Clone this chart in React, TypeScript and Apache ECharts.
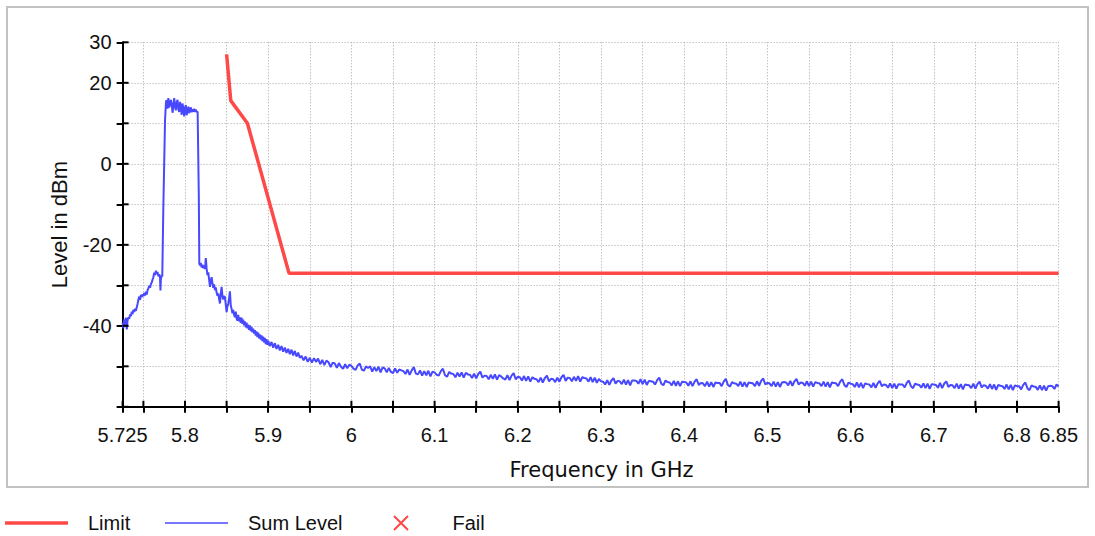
import { useEffect, useRef } from 'react';
import * as echarts from 'echarts';

// ---------- axis ticks / labels ----------
const xTickValues = [5.725, 5.75, 5.8, 5.85, 5.9, 5.95, 6.0, 6.05, 6.1, 6.15, 6.2, 6.25, 6.3, 6.35, 6.4, 6.45, 6.5, 6.55, 6.6, 6.65, 6.7, 6.75, 6.8, 6.85];
const xLabelValues = [5.725, 5.8, 5.9, 6.0, 6.1, 6.2, 6.3, 6.4, 6.5, 6.6, 6.7, 6.8, 6.85];
const yTickValues = [-60, -50, -40, -30, -20, -10, 0, 10, 20, 30];
const yLabelValues = [30, 20, 0, -20, -40];

// ---------- series: Limit (GHz, dBm) ----------
const limitPoints: [number, number][] = [
  [5.85, 27], [5.855, 15.6], [5.875, 10], [5.925, -27], [6.85, -27],
];

// ---------- series: Sum Level, signal region (GHz, dBm) ----------
const sumLevelSignal: [number, number][] = [
  [5.725, -39.2], [5.726, -40.6], [5.727, -38.4], [5.728, -39.8], [5.729, -38.0], [5.730, -40.9], [5.731, -38.6], [5.732, -37.9],
  [5.733, -38.3], [5.734, -37.2], [5.735, -37.6], [5.736, -36.5], [5.737, -37.1], [5.738, -36.0], [5.739, -36.6], [5.740, -35.8],
  [5.741, -36.3], [5.742, -35.4], [5.743, -34.6], [5.744, -33.5], [5.745, -32.8], [5.746, -33.6], [5.747, -32.4], [5.748, -32.9],
  [5.749, -32.2], [5.750, -32.7], [5.751, -31.9], [5.752, -32.5], [5.753, -31.6], [5.754, -32.3], [5.755, -31.2], [5.756, -30.8],
  [5.757, -30.1], [5.758, -30.6], [5.759, -29.7], [5.760, -29.3], [5.761, -28.6], [5.762, -28.0], [5.763, -26.9], [5.764, -27.5],
  [5.765, -26.4], [5.766, -27.2], [5.767, -26.7], [5.768, -27.8], [5.769, -27.3], [5.770, -28.1], [5.7705, -31.3], [5.771, -28.5],
  [5.772, -27.6], [5.7727, -27.8], [5.7739, -11.5], [5.776, 10.8], [5.7772, 15.4],
  [5.778, 15.7], [5.779, 13.6], [5.780, 16.2], [5.781, 13.9], [5.782, 14.6], [5.783, 15.8], [5.784, 14.9], [5.785, 12.6],
  [5.786, 14.0], [5.787, 16.2], [5.788, 14.4], [5.789, 13.2], [5.790, 15.1], [5.791, 15.8], [5.792, 13.4], [5.793, 12.8],
  [5.794, 15.3], [5.795, 14.2], [5.796, 12.1], [5.797, 14.9], [5.798, 13.6], [5.799, 11.7], [5.800, 13.8], [5.801, 14.5],
  [5.802, 12.0], [5.803, 13.1], [5.804, 14.1], [5.805, 12.5], [5.806, 13.4], [5.807, 13.9], [5.808, 12.7], [5.809, 13.5],
  [5.810, 12.9], [5.811, 13.6], [5.812, 12.8], [5.813, 13.4], [5.814, 12.9], [5.8152, 12.8], [5.8166, -8.0], [5.8172, -24.6],
  [5.818, -25.1], [5.819, -24.5], [5.820, -25.6], [5.821, -24.9], [5.822, -25.8], [5.823, -25.1], [5.824, -26.0], [5.825, -23.3],
  [5.826, -25.9], [5.827, -27.5], [5.828, -26.8], [5.829, -28.6], [5.830, -30.4], [5.831, -28.9], [5.832, -28.0], [5.833, -29.5],
  [5.834, -30.6], [5.835, -29.8], [5.836, -31.2], [5.837, -30.5], [5.838, -31.8], [5.839, -32.6], [5.840, -32.0], [5.841, -33.4],
  [5.842, -34.5], [5.843, -32.2], [5.844, -30.4], [5.845, -32.6], [5.846, -33.5], [5.847, -32.7], [5.848, -32.9], [5.849, -34.8],
  [5.850, -36.6], [5.851, -35.2], [5.852, -34.6], [5.853, -33.2], [5.854, -31.5], [5.855, -35.0], [5.856, -35.8], [5.857, -36.9],
  [5.858, -36.1], [5.859, -37.3], [5.860, -37.9], [5.861, -36.5], [5.862, -38.2], [5.863, -38.7], [5.864, -37.3], [5.865, -38.9],
  [5.866, -37.9], [5.867, -39.3], [5.868, -38.0], [5.869, -39.5], [5.870, -38.5], [5.871, -39.9], [5.872, -38.9], [5.873, -40.4],
  [5.874, -39.2], [5.875, -40.6], [5.876, -39.7], [5.877, -41.0], [5.878, -39.9], [5.879, -41.3], [5.880, -40.3], [5.881, -41.6],
  [5.882, -40.7], [5.883, -41.9], [5.884, -41.1], [5.885, -42.4], [5.886, -41.4], [5.887, -42.8], [5.888, -41.7], [5.889, -43.1],
  [5.890, -42.1], [5.891, -43.4], [5.892, -42.4], [5.893, -43.8], [5.894, -42.7], [5.895, -44.1], [5.896, -43.0], [5.897, -44.5],
  [5.898, -43.3], [5.899, -44.7], [5.900, -43.7],
  [5.902, -45.0], [5.904, -44.0], [5.906, -45.4], [5.908, -44.3], [5.910, -45.7], [5.912, -44.7], [5.914, -46.1], [5.916, -45.0],
  [5.918, -46.4], [5.920, -45.4], [5.922, -46.7], [5.924, -45.7], [5.926, -47.0], [5.928, -45.9], [5.930, -47.3], [5.932, -46.2],
  [5.934, -47.6], [5.936, -46.6], [5.938, -47.9],
];

// ---------- series: Sum Level, noise floor, one reading every 2.5 MHz from 5.94 GHz ----------
const floorStartGHz = 5.94;
const floorStepGHz = 0.0025;
const sumLevelFloor = [
  // 5.94 - 6.04
  -47.4, -48.5, -47.6, -48.9, -47.9, -49.1, -48.0, -48.9, -48.1, -49.5, -48.4, -49.7, -48.6, -49.0, -50.2, -49.1,
  -49.3, -50.4, -49.2, -50.1, -50.6, -49.5, -50.5, -49.6, -49.9, -50.6, -50.9, -49.8, -49.3, -50.8, -51.1, -50.0,
  -50.4, -50.0, -51.3, -50.2, -51.2, -50.1, -51.5, -50.3,
  // 6.04 - 6.14
  -50.5, -51.5, -50.4, -51.4, -51.7, -50.5, -51.6, -50.8, -51.0, -51.2, -51.9, -50.8, -52.1, -51.0, -50.2, -51.8,
  -52.0, -51.0, -52.3, -51.2, -52.2, -51.1, -52.5, -51.3, -51.5, -52.1, -52.3, -51.2, -50.6, -52.2, -52.6, -51.4,
  -51.8, -51.9, -52.7, -51.6, -52.5, -51.5, -52.8, -51.6,
  // 6.14 - 6.24
  -52.0, -52.1, -52.9, -51.8, -53.0, -51.9, -51.3, -52.8, -52.3, -52.4, -53.2, -52.1, -53.1, -52.0, -53.3, -52.2,
  -52.5, -53.0, -53.3, -52.2, -53.4, -52.3, -51.7, -53.2, -52.6, -52.7, -53.5, -52.4, -53.6, -52.5, -53.8, -52.7,
  -53.1, -53.2, -53.9, -52.8, -54.0, -52.9, -52.3, -53.7,
  // 6.24 - 6.34
  -53.1, -53.2, -53.9, -52.8, -53.8, -52.7, -52.1, -53.6, -52.8, -52.9, -53.7, -52.6, -53.6, -52.4, -53.8, -52.7,
  -52.9, -53.0, -53.8, -52.7, -53.9, -52.8, -54.1, -53.1, -53.7, -53.8, -54.5, -53.4, -54.6, -53.5, -52.9, -54.3,
  -53.6, -53.7, -54.4, -53.3, -54.5, -53.4, -54.7, -53.5,
  // 6.34 - 6.44
  -53.5, -53.6, -54.3, -53.2, -54.4, -53.3, -54.6, -53.6, -53.7, -53.8, -54.5, -53.4, -52.8, -54.3, -54.7, -53.5,
  -53.9, -54.0, -54.7, -53.6, -54.8, -53.7, -54.9, -53.8, -53.9, -54.0, -54.8, -53.7, -54.9, -53.8, -53.2, -54.6,
  -54.1, -54.2, -54.9, -53.8, -55.0, -53.9, -55.1, -54.0,
  // 6.44 - 6.54
  -54.1, -54.1, -54.9, -53.8, -53.1, -54.6, -55.0, -53.9, -54.2, -54.3, -54.9, -53.8, -55.0, -53.9, -55.1, -54.0,
  -54.1, -54.2, -54.9, -53.7, -54.8, -53.6, -53.0, -54.5, -54.1, -54.2, -54.9, -53.8, -55.0, -53.9, -55.1, -54.0,
  -53.9, -54.0, -54.7, -53.6, -54.8, -53.7, -53.1, -54.5,
  // 6.54 - 6.64
  -54.0, -54.1, -54.8, -53.7, -54.9, -53.8, -55.0, -53.9, -54.1, -54.2, -54.9, -53.8, -55.0, -53.9, -55.2, -54.0,
  -54.1, -54.2, -54.9, -53.8, -53.2, -54.6, -55.1, -54.0, -54.3, -54.4, -55.1, -54.0, -55.2, -54.1, -55.4, -54.2,
  -54.4, -54.5, -55.2, -54.1, -55.3, -54.2, -53.6, -54.9,
  // 6.64 - 6.74
  -54.5, -54.6, -55.3, -54.2, -55.4, -54.3, -55.5, -54.4, -54.5, -54.5, -55.2, -54.1, -53.5, -54.9, -55.4, -54.3,
  -54.5, -54.6, -55.3, -54.2, -55.4, -54.3, -55.6, -54.4, -54.5, -54.6, -55.3, -54.1, -55.4, -54.3, -53.7, -55.1,
  -54.6, -54.7, -55.4, -54.3, -55.5, -54.4, -55.7, -54.5,
  // 6.74 - 6.85
  -54.6, -54.7, -55.4, -54.3, -55.5, -54.4, -53.8, -55.2, -54.7, -54.8, -55.5, -54.4, -55.6, -54.5, -55.8, -54.6,
  -54.8, -54.9, -55.6, -54.5, -55.7, -54.6, -55.9, -54.7, -54.9, -54.9, -55.7, -54.6, -54.0, -55.4, -55.9, -54.7,
  -55.0, -55.1, -55.8, -54.7, -55.9, -54.8, -56.0, -54.9, -54.8, -54.9, -55.6, -54.5, -55.0,
];

const FONT = 'Liberation Sans';
const TEXT = '#111111';
const GRID_LINE = { color: '#a8a8a8', width: 1, type: [1, 2] as number[] };
const TICK_STYLE = { color: '#000', width: 2 };
const TICK_LEN = 6;

const CHART_W = 1095;
const CHART_H = 536;

function legendBlock(left: number, item: any) {
  return {
    left, top: 508, orient: 'horizontal',
    itemWidth: 63, itemHeight: 14, itemGap: 10, selectedMode: false,
    textStyle: { fontFamily: FONT, fontSize: 20, color: TEXT, padding: [0, 0, 0, 15] },
    data: [item],
  };
}

export default function App() {
  const ref = useRef<HTMLDivElement>(null);

  useEffect(() => {
    if (!ref.current) return;
    const chart = echarts.init(ref.current, null, { renderer: 'svg' });

    const sumData: [number, number][] = [
      ...sumLevelSignal,
      ...sumLevelFloor.map((v, i) => [+(floorStartGHz + i * floorStepGHz).toFixed(4), v] as [number, number]),
    ];

    const baseOption: any = {
      animation: false,
      backgroundColor: '#ffffff',
      grid: {
        left: 122.6, right: 36.4, top: 42.3, bottom: 129.2,
        containLabel: false, outerBoundsMode: 'none',
      },
      legend: [
        legendBlock(0, { name: 'Limit', icon: 'path://M0,0H63V3.5H0Z', itemStyle: { borderWidth: 0 } }),
        legendBlock(160, { name: 'Sum Level', icon: 'path://M0,0H63V1.5H0Z', itemStyle: { borderWidth: 0 } }),
        legendBlock(388, {
          name: 'Fail', icon: 'path://M0,0L10,10M10,0L0,10',
          itemStyle: { color: 'rgba(0,0,0,0)', borderColor: '#ff1a1a', borderWidth: 2 },
        }),
      ],
      xAxis: {
        type: 'value', min: 5.725, max: 6.85, position: 'bottom',
        name: 'Frequency in GHz', nameLocation: 'middle', nameGap: 53, nameMoveOverlap: false,
        nameTextStyle: { fontFamily: 'DejaVu Sans', fontSize: 21, color: TEXT, padding: [0, 0, 0, 22] },
        axisLine: { show: true, onZero: false, lineStyle: { color: '#000', width: 2 } },
        axisTick: { show: true, inside: false, length: TICK_LEN, customValues: xTickValues, lineStyle: TICK_STYLE },
        axisLabel: {
          show: true, customValues: xLabelValues, margin: 18,
          fontFamily: FONT, fontSize: 20, color: TEXT,
          formatter: (v: number) => String(parseFloat(Number(v).toFixed(3))),
        },
        splitLine: { show: true, lineStyle: GRID_LINE },
      },
      yAxis: {
        type: 'value', min: -60, max: 30, interval: 10, position: 'left',
        name: 'Level in dBm', nameLocation: 'middle', nameGap: 52, nameMoveOverlap: false,
        nameTextStyle: { fontFamily: FONT, fontSize: 22, color: TEXT },
        axisLine: { show: true, onZero: false, lineStyle: { color: '#000', width: 2 } },
        axisTick: { show: true, inside: false, length: TICK_LEN, lineStyle: TICK_STYLE },
        axisLabel: {
          show: true, margin: 11, fontFamily: FONT, fontSize: 20, color: TEXT,
          formatter: (v: number) => (yLabelValues.includes(v) ? String(v) : ''),
        },
        splitLine: { show: true, lineStyle: GRID_LINE },
      },
      series: [
        {
          name: 'Limit', type: 'line',
          data: limitPoints, symbol: 'none', z: 4,
          lineStyle: { color: '#ff4848', width: 3.5 }, itemStyle: { color: '#ff4848' },
        },
        {
          name: 'Sum Level', type: 'line',
          data: sumData, symbol: 'none', z: 3,
          lineStyle: { color: '#4848ff', width: 2 }, itemStyle: { color: '#4848ff' },
        },
        {
          name: 'Fail', type: 'scatter',
          data: [], symbol: 'path://M0,0L10,10M10,0L0,10', symbolSize: 12,
          itemStyle: { color: 'rgba(0,0,0,0)', borderColor: '#ff1a1a', borderWidth: 2 },
        },
      ],
    };

    chart.setOption(baseOption);

    // inner halves of the axis ticks (the reference ticks cross the axis lines),
    // positioned through the axes' own scales
    const xAt = (v: number) => Number(chart.convertToPixel({ xAxisIndex: 0 }, v));
    const yAt = (v: number) => Number(chart.convertToPixel({ yAxisIndex: 0 }, v));
    const axisY = yAt(-60);
    const axisX = xAt(5.725);
    const elements: any[] = [
      {
        type: 'rect', silent: true, z: 0,
        shape: { x: 7, y: 7, width: 1081, height: 480 },
        style: { fill: 'none', stroke: '#c2c2c2', lineWidth: 2 },
      },
    ];
    xTickValues.forEach((v) => {
      const px = xAt(v);
      elements.push({
        type: 'line', silent: true, z: 100,
        shape: { x1: px, y1: axisY, x2: px, y2: axisY - TICK_LEN },
        style: { stroke: TICK_STYLE.color, lineWidth: TICK_STYLE.width },
      });
    });
    yTickValues.forEach((v) => {
      const py = yAt(v);
      elements.push({
        type: 'line', silent: true, z: 100,
        shape: { x1: axisX, y1: py, x2: axisX + TICK_LEN, y2: py },
        style: { stroke: TICK_STYLE.color, lineWidth: TICK_STYLE.width },
      });
    });
    chart.setOption({ ...baseOption, graphic: elements }, true);

    return () => chart.dispose();
  }, []);

  return (
    <div
      ref={ref}
      style={{ position: 'fixed', left: 0, top: 0, width: CHART_W, height: CHART_H, background: '#ffffff' }}
    />
  );
}
